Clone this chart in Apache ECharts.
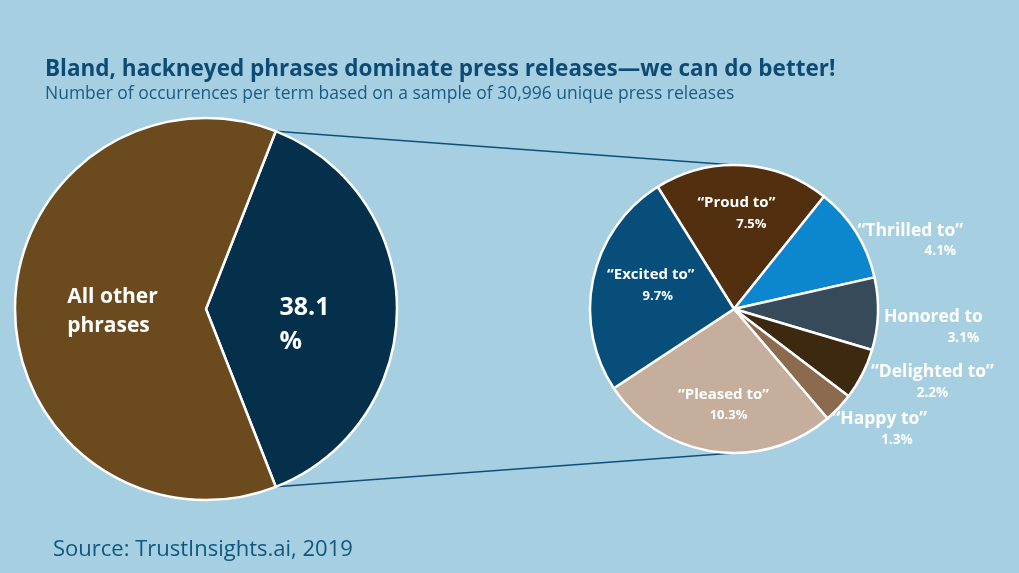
<!DOCTYPE html>
<html>
<head>
<meta charset="utf-8">
<script src="https://cdn.jsdelivr.net/npm/echarts@6/dist/echarts.min.js"></script>
<style>
html,body{margin:0;padding:0;background:#a6d0e1;}
#c{width:1019px;height:573px;}
</style>
</head>
<body>
<div id="c"></div>
<script>
// ---- data ----
const overviewNames = ['All other phrases', 'Selected phrases'];
const overviewValues = [61.9, 38.1];
const detailNames = ['“Proud to”', '“Thrilled to”', 'Honored to', '“Delighted to”', '“Happy to”', '“Pleased to”', '“Excited to”'];
const detailValues = [7.5, 4.1, 3.1, 2.2, 1.3, 10.3, 9.7];
const titleText = 'Bland, hackneyed phrases dominate press releases—we can do better!';
const subtitleText = 'Number of occurrences per term based on a sample of 30,996 unique press releases';
const sourceText = 'Source: TrustInsights.ai, 2019';

// ---- styles (kept apart from the data) ----
const detailColors = ['#52300f', '#0b86cf', '#364a59', '#3d2910', '#8b6a4d', '#c6ae9c', '#074e7b'];
const detailInside = [true, false, false, false, false, true, true];
const detailLabelOffsets = [[-2, -21], [-7, 10], [-3, 13], [0, 6], [-14, 18], [0, 21], [-10, -8]];
const detailPctPad = [30, 60, 60, 0, 34, 10, 14];

// ---- layout ----
const FONT = '"Open Sans", "Noto Sans", sans-serif';
const L = {cx: 206, cy: 309, r: 191};
const R = {cx: 734, cy: 309, r: 144};
const selectedShare = overviewValues[1] / (overviewValues[0] + overviewValues[1]);
const halfAngle = selectedShare * 180; // degrees
const leftStart = halfAngle; // selected slice centered on the right

const chart = echarts.init(document.getElementById('c'), null, {renderer: 'canvas'});

const edgeTop = [L.cx + L.r * Math.cos(halfAngle * Math.PI / 180), L.cy - L.r * Math.sin(halfAngle * Math.PI / 180)];
const edgeBot = [edgeTop[0], L.cy + L.r * Math.sin(halfAngle * Math.PI / 180)];

const option = {
  backgroundColor: '#a6d0e1',
  animation: false,
  title: [{
    text: titleText,
    left: 40, top: 53,
    textStyle: {fontFamily: FONT, fontSize: 22.5, fontWeight: 'bold', color: '#0d4a74'}
  }, {
    text: subtitleText,
    left: 40, top: 80,
    textStyle: {fontFamily: FONT, fontSize: 17.5, fontWeight: 'normal', color: '#1a5b86'}
  }, {
    text: sourceText,
    left: 48, top: 534,
    textStyle: {fontFamily: FONT, fontSize: 22, fontWeight: 'normal', color: '#0e5880'}
  }],
  graphic: [
    {type: 'line', z: 1, shape: {x1: edgeTop[0], y1: edgeTop[1], x2: R.cx, y2: R.cy - R.r}, style: {stroke: '#0d4f7b', lineWidth: 1.5}},
    {type: 'line', z: 1, shape: {x1: edgeBot[0], y1: edgeBot[1], x2: R.cx, y2: R.cy + R.r}, style: {stroke: '#0d4f7b', lineWidth: 1.5}}
  ],
  series: [{
    type: 'pie',
    center: [L.cx, L.cy],
    radius: [0, L.r],
    startAngle: leftStart,
    clockwise: true,
    silent: true,
    z: 3,
    data: [
      {name: overviewNames[1], value: overviewValues[1], itemStyle: {color: '#05304b'},
       label: {formatter: function (p) { return '{a|' + p.value + '}\n{b|%}'; }, offset: [0, 16],
               rich: {a: {fontSize: 25, lineHeight: 34, fontWeight: 'bold', color: '#fff', fontFamily: FONT, align: 'left'},
                      b: {fontSize: 25, lineHeight: 34, fontWeight: 'bold', color: '#fff', fontFamily: FONT, align: 'left'}}}},
      {name: overviewNames[0], value: overviewValues[0], itemStyle: {color: '#6b4a1e'},
       label: {formatter: '{a|All other}\n{a|phrases}', offset: [5, 3],
               rich: {a: {fontSize: 21, lineHeight: 29, fontWeight: 'bold', color: '#fff', fontFamily: FONT, align: 'left'}}}}
    ],
    itemStyle: {borderColor: '#ffffff', borderWidth: 2.5},
    label: {show: true, position: 'inside', color: '#ffffff', fontFamily: FONT, fontWeight: 'bold'},
    labelLine: {show: false}
  }, {
    type: 'pie',
    center: [R.cx, R.cy],
    radius: [0, R.r],
    startAngle: 122,
    clockwise: true,
    silent: true,
    z: 3,
    data: detailNames.map(function (n, i) {
      const inside = detailInside[i];
      const fmt = '{n|' + n + '}\n{p|' + detailValues[i].toFixed(1) + '%}';
      const pad = [0, 0, 0, detailPctPad[i]];
      return {
        name: n, value: detailValues[i],
        itemStyle: {color: detailColors[i]},
        label: inside ? {
          position: 'inside', formatter: fmt, offset: detailLabelOffsets[i],
          rich: {n: {fontSize: 15, fontWeight: 'bold', color: '#fff', fontFamily: FONT, lineHeight: 22, align: 'center'},
                 p: {fontSize: 13, fontWeight: 'bold', color: '#fff', fontFamily: FONT, lineHeight: 20, align: 'center', padding: pad}}
        } : {
          position: 'outside', formatter: fmt, offset: detailLabelOffsets[i],
          rich: {n: {fontSize: 17.5, fontWeight: 'bold', color: '#fff', fontFamily: FONT, lineHeight: 22, align: 'center'},
                 p: {fontSize: 13.5, fontWeight: 'bold', color: '#fff', fontFamily: FONT, lineHeight: 20, align: 'center', padding: pad}}
        }
      };
    }),
    itemStyle: {borderColor: '#ffffff', borderWidth: 2.5},
    label: {show: true, color: '#fff', fontFamily: FONT, fontWeight: 'bold', overflow: 'none', bleedMargin: 0},
    labelLine: {show: false, length: 4, length2: 0},
    labelLayout: {hideOverlap: false},
    avoidLabelOverlap: false
  }]
};
chart.setOption(option);
</script>
</body>
</html>
